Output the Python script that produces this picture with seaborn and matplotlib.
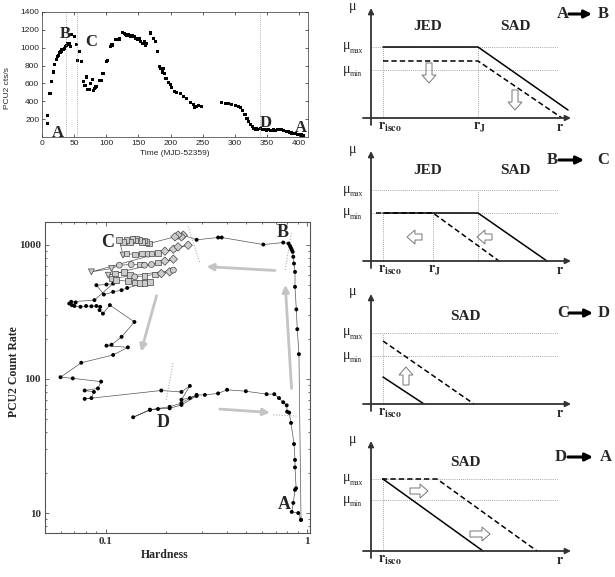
import matplotlib
matplotlib.use("Agg")
import matplotlib.pyplot as plt
from matplotlib.patches import FancyArrow
from matplotlib.ticker import NullFormatter, LogLocator
import pandas as pd
import seaborn as sns

# ---------------- light curve (top left) ----------------
lc_time = [8, 9, 12.5, 15, 17.5, 20, 22.5, 24.5, 26, 28, 29.5, 31, 33, 34.5, 36, 37.5, 40, 42.5, 44,
           46.5, 50, 54, 55.5, 59, 61, 64, 67, 69.5, 71, 73.5, 76, 79, 80.5, 81.5, 83, 84, 89, 92, 95,
           100.5, 102, 106, 109, 114, 117.5, 120, 125, 128, 130.5, 132, 134.5, 137, 138.5, 141, 143.5,
           146, 148.5, 151, 154, 156.5, 159, 161.5, 163, 168.5, 173.5, 176, 180, 183, 185, 188, 189, 190,
           193, 197, 199.5, 202, 206, 210, 215, 220, 225.5, 230.5, 236, 238, 240.5, 243.5, 248,
           280, 285, 290, 295.5, 300.5, 306, 308.5, 312.5, 316, 319, 321.5, 324, 327, 330, 333, 336,
           340, 343, 346, 350, 353, 356, 358, 360, 363, 366, 370, 373, 376, 380, 383, 386, 389, 392,
           395, 398, 401, 404, 407]
lc_rate = [150, 238, 490, 625, 728, 812, 868, 898, 917, 943, 962, 974, 981, 993, 1011, 1023, 1042, 1049, 1011,
           1150, 1125, 1040, 860, 955, 842, 623, 577, 672, 528, 528, 596, 642, 521, 540, 551, 566, 634, 634, 710,
           842, 860, 1011, 1030, 1087, 1094, 1098, 1174, 1162, 1151, 1132, 1151, 1140, 1125, 1132, 1125,
           1106, 1087, 1106, 1068, 1049, 1068, 1030, 1045, 1165, 1106, 1068, 955, 785, 770, 728, 770, 710,
           653, 615, 590, 558, 513, 500, 483, 453, 427, 389, 359, 332, 340, 351, 343,
           385, 380, 375, 365, 350, 345, 330, 294, 257, 210, 175, 145, 115, 100, 90, 85,
           92, 80, 85, 78, 82, 75, 70, 78, 72, 88, 85, 80, 75, 65, 58, 52, 45, 40,
           35, 30, 25, 22, 20]
lc_state_times = [38, 54, 339]
lc_labels = ['A', 'B', 'C', 'D', 'A']
lc_label_t = [24, 36, 76, 348, 403]
lc_label_rate = [40, 1155, 1068, 155, 105]

# ---------------- hardness-intensity diagram (bottom left) ----------------
rise_h = [0.934, 0.912, 0.895, 0.885, 0.872, 0.872, 0.862, 0.855, 0.849, 0.840, 0.832, 0.824, 0.810,
          0.762, 0.607, 0.377, 0.362, 0.283]
rise_c = [8.9, 153, 235, 330, 486, 628, 725, 814, 887, 920, 950, 980, 1022,
          1040, 1005, 1134, 1134, 1090]

soft_rows_h = [
    [0.243, 0.238, 0.229, 0.221, 0.164, 0.159, 0.155, 0.151, 0.147, 0.142, 0.1395, 0.136, 0.132, 0.127, 0.122, 0.117],
    [0.122, 0.127, 0.1395, 0.151, 0.1625, 0.169, 0.182, 0.197, 0.217, 0.229, 0.257],
    [0.085, 0.107, 0.117, 0.134, 0.148, 0.156, 0.169, 0.182, 0.197, 0.217],
    [0.103, 0.111, 0.124, 0.132, 0.1395, 0.156, 0.175, 0.189, 0.208, 0.217],
    [0.107, 0.113, 0.129, 0.1395, 0.148, 0.156, 0.166],
]
soft_rows_c = [
    [1181, 1147, 1181, 1147, 1023, 1053, 1077, 1053, 1083, 1115, 1077, 1102, 1053, 1083, 1053, 1083],
    [838, 862, 847, 862, 852, 862, 872, 897, 928, 966, 994],
    [629, 666, 705, 713, 713, 705, 713, 739, 756, 782],
    [594, 611, 629, 594, 577, 587, 601, 611, 629, 648],
    [561, 545, 536, 524, 521, 521, 530],
]
soft_rows_marker = ["DDDDssssssssssss", "vsssossDDDD", "vvoosoosDD", "vsssossDDo", "sssssss"]

desc_h = [0.128, 0.120, 0.109, 0.098, 0.090, 0.101, 0.109, 0.088, 0.0675, 0.066, 0.068, 0.071, 0.070,
          0.075, 0.080, 0.085, 0.090, 0.094, 0.0933, 0.097, 0.105, 0.139, 0.120, 0.107, 0.101, 0.129,
          0.109, 0.0757, 0.0597, 0.0687, 0.095, 0.0916, 0.0787, 0.0875, 0.085, 0.0787, 0.189, 0.238,
          0.262, 0.238, 0.283, 0.238, 0.208, 0.182, 0.166, 0.137, 0.166, 0.208, 0.238, 0.262, 0.283,
          0.311, 0.362, 0.401, 0.497, 0.630, 0.688, 0.726, 0.762, 0.793, 0.797, 0.816, 0.833, 0.862,
          0.872, 0.872, 0.883, 0.872, 0.855, 0.840, 0.905, 0.934]
desc_c = [477, 459, 446, 426, 500, 506, 514, 387, 376, 365, 355, 372, 350, 345, 350, 348, 350, 345,
          326, 307, 355, 266, 206, 180, 177, 172, 151, 132, 103, 101, 95.5, 85, 82, 80, 72, 71, 82, 80,
          88.7, 70, 74.6, 64, 60.4, 59.7, 58.7, 51.8, 59, 62, 66, 72, 76, 76, 78, 83, 81, 77, 77, 72,
          67, 63.6, 57, 56, 47, 32.7, 24.9, 21.9, 15.3, 14.9, 11.9, 10.2, 10.0, 8.9]

hid_arrows = [((0.693, 644), (0.317, 688)), ((0.179, 417), (0.150, 160)),
              ((0.369, 59.6), (0.655, 56.2)), ((0.838, 85), (0.78, 503))]
hid_separators = [((0.78, 651), (0.836, 1222)), ((0.257, 1370), (0.294, 730)),
                  ((0.216, 131), (0.2, 70)), ((0.68, 54), (0.89, 52.8))]
hid_labels = ['A', 'B', 'C', 'D']
hid_label_h = [0.77, 0.76, 0.102, 0.192]
hid_label_c = [11.5, 1229, 1035, 47]

# ---------------- schematic panels (right) ----------------
sch_origin_y = [118, 261, 404, 551]
sch_from = ['A', 'B', 'C', 'D']
sch_to = ['B', 'C', 'D', 'A']
sch_mu_max = [71, 71, 71, 72]
sch_mu_min = [48, 48, 48, 51]
sch_solid_r = [[12, 107, 197], [12, 107, 176], [12, 53], [12, 112]]
sch_solid_mu = [[71, 71, 8], [48, 48, 0], [27, 0], [72, 0]]
sch_dash_r = [[12, 107, 191], [5, 62, 128], [12, 103], [11, 66, 166]]
sch_dash_mu = [[57, 57, 0], [48, 48, 0], [63, 0], [72, 72, 0]]
sch_vlines = [[(12, 71), (107, 71)], [(12, 48), (62, 48), (107, 71)], [(12, 71)], [(12, 72)]]
sch_regions = [[('JED', 57), ('SAD', 144)], [('JED', 57), ('SAD', 144)], [('SAD', 94)], [('SAD', 94)]]
sch_region_mu = [91, 91, 87, 89]
sch_rlabels = [[('isco', 12), ('J', 107)], [('isco', 12), ('J', 62)], [('isco', 12)], [('isco', 12)]]
sch_moves = [[(58, 55, 0, -20), (144, 28, 0, -20)], [(51, 24, -15, 0), (121, 24, -15, 0)],
             [(35, 19, 0, 18)], [(39, 60, 18, 0), (99, 17, 20, 0)]]
sch_trans_r = [(192, 198, 221, 232), (181, 188, 213, 232), (192, 198, 222, 233), (190, 197, 222, 235)]
sch_trans_mu = [104, 101, 91, 94]

# ---------------- figure ----------------
sns.set_theme(style="ticks")
plt.rcParams['font.family'] = ['Liberation Serif', 'DejaVu Serif']
plt.rcParams['mathtext.fontset'] = 'stix'
plt.rcParams['axes.linewidth'] = 0.6

W, H = 615, 577
fig = plt.figure(figsize=(W / 100, H / 100), dpi=100)
fig.patch.set_facecolor('white')


def px_axes(x0, y0, x1, y1):
    return fig.add_axes([x0 / W, 1 - y1 / H, (x1 - x0) / W, (y1 - y0) / H])


# ---- top-left light curve ----
ax1 = px_axes(42, 12, 308, 137)
lc = pd.DataFrame({'t': lc_time, 'rate': lc_rate})
sns.scatterplot(data=lc, x='t', y='rate', ax=ax1, s=5, color='black', edgecolor='none', linewidth=0, marker='s')
for v in lc_state_times:
    ax1.axvline(v, color='#999999', ls=(0, (1, 1.5)), lw=0.6)
for lab, t, r in zip(lc_labels, lc_label_t, lc_label_rate):
    ax1.text(t, r, lab, fontsize=12, fontweight='bold', ha='center', va='center')
ax1.set_xlim(0, 414)
ax1.set_ylim(0, 1400)
ax1.set_xticks(range(0, 401, 50))
ax1.set_yticks(range(200, 1401, 200))
ax1.tick_params(direction='in', labelsize=6, length=2, width=0.5, top=True, right=True,
                labelfontfamily='Liberation Sans', pad=2, colors='#222222')
ax1.tick_params(axis='x', pad=2.5)
ax1.set_xlabel('Time (MJD-52359)', fontsize=6, family='Liberation Sans')
ax1.set_ylabel('PCU2 cts/s', fontsize=6, family='Liberation Sans')
ax1.xaxis.set_label_coords(0.5, -0.105)
ax1.yaxis.set_label_coords(-0.115, 0.39)
for s in ax1.spines.values():
    s.set_color('#333333')
    s.set_linewidth(0.5)

# ---- bottom-left hardness-intensity diagram ----
ax2 = px_axes(45, 222, 310, 533)
ax2.set_xscale('log')
ax2.set_yscale('log')

soft_h, soft_c, soft_m = [], [], []
for hs, cs, ms in zip(soft_rows_h, soft_rows_c, soft_rows_marker):
    soft_h += hs
    soft_c += cs
    soft_m += list(ms)

path = pd.DataFrame({'h': rise_h + soft_h + desc_h, 'c': rise_c + soft_c + desc_c})
sns.lineplot(data=path, x='h', y='c', sort=False, estimator=None, color='#555555', lw=0.5, ax=ax2)

hard = pd.DataFrame({'h': rise_h + desc_h, 'c': rise_c + desc_c})
sns.scatterplot(data=hard, x='h', y='c', color='black', s=8, edgecolor='none', linewidth=0, ax=ax2, zorder=4)

soft = pd.DataFrame({'h': soft_h, 'c': soft_c, 'm': soft_m})
sns.scatterplot(data=soft, x='h', y='c', style='m', markers={'s': 's', 'D': 'D', 'v': 'v', 'o': 'o'},
                color='#cccccc', edgecolor='#444444', linewidth=0.5, s=18, legend=False, ax=ax2, zorder=4)

for (t0, t1) in hid_arrows:
    ax2.annotate('', xy=t1, xytext=t0,
                 arrowprops=dict(arrowstyle='-|>', color='#c4c4c4', lw=2.0, mutation_scale=10,
                                 shrinkA=0, shrinkB=0))
for (p0, p1) in hid_separators:
    ax2.plot([p0[0], p1[0]], [p0[1], p1[1]], ls=(0, (1, 1.5)), color='#aaaaaa', lw=0.8)
for lab, h, c in zip(hid_labels, hid_label_h, hid_label_c):
    ax2.text(h, c, lab, fontsize=13, fontweight='bold', ha='center', va='center', zorder=5)

ax2.set_xlim(0.05, 1.035)
ax2.set_ylim(7.1, 1480)
ax2.set_xticks([0.1, 1])
ax2.set_xticklabels(['0.1', '1'], fontweight='bold', fontsize=8)
ax2.set_yticks([10, 100, 1000])
ax2.set_yticklabels(['10', '100', '1000'], fontweight='bold', fontsize=8)
ax2.xaxis.set_minor_locator(LogLocator(base=10, subs=range(2, 10)))
ax2.yaxis.set_minor_locator(LogLocator(base=10, subs=range(2, 10)))
ax2.xaxis.set_minor_formatter(NullFormatter())
ax2.yaxis.set_minor_formatter(NullFormatter())
ax2.tick_params(which='both', direction='in', top=True, right=True, width=0.5, colors='#333333', pad=3)
ax2.tick_params(which='major', length=3)
ax2.tick_params(which='minor', length=1.5)
ax2.set_xlabel('Hardness', fontsize=8.5, fontweight='bold')
ax2.set_ylabel('PCU2 Count Rate', fontsize=8.5, fontweight='bold')
ax2.xaxis.set_label_coords(0.45, -0.05)
ax2.yaxis.set_label_coords(-0.095, 0.52)
for s in ax2.spines.values():
    s.set_color('#555555')
    s.set_linewidth(0.8)

# ---- right-hand schematic panels ----
for i, oy in enumerate(sch_origin_y):
    ax = px_axes(335, oy - 125, 615, oy + 25)
    ax.set_xlim(-36, 244)
    ax.set_ylim(-25, 125)
    ax.axis('off')
    ax.patch.set_alpha(0)
    # axes arrows
    ax.annotate('', xy=(0, 110), xytext=(0, -7),
                arrowprops=dict(arrowstyle='-|>', lw=1.3, color='#333333', mutation_scale=8,
                                shrinkA=0, shrinkB=0))
    ax.annotate('', xy=(200, 0), xytext=(-8, 0),
                arrowprops=dict(arrowstyle='-|>', lw=1.3, color='#333333', mutation_scale=8,
                                shrinkA=0, shrinkB=0))
    # reference levels
    for lvl, name in ((sch_mu_max[i], 'max'), (sch_mu_min[i], 'min')):
        ax.plot([0, 187], [lvl, lvl], ls=(0, (1, 1.5)), color='#888888', lw=0.6)
        ax.text(-21, lvl + 1, 'μ', fontsize=10, ha='right', va='center')
        ax.text(-21, lvl - 4, name, fontsize=5.5, ha='left', va='center')
    for (rv, top) in sch_vlines[i]:
        ax.plot([rv, rv], [0, top], ls=(0, (1, 1.5)), color='#888888', lw=0.6)
    # profiles
    ax.plot(sch_dash_r[i], sch_dash_mu[i], color='black', lw=1.1, ls=(0, (3.5, 2)))
    ax.plot(sch_solid_r[i], sch_solid_mu[i], color='black', lw=1.1)
    # hollow arrows
    for (x, y, dx, dy) in sch_moves[i]:
        ax.add_patch(FancyArrow(x, y, dx, dy, width=6, head_width=14, head_length=8,
                                length_includes_head=True, facecolor='white', edgecolor='#777777',
                                linewidth=0.7))
    # texts
    ax.text(-18, 112, 'μ', fontsize=10, ha='center', va='center')
    for (name, rpos) in sch_regions[i]:
        ax.text(rpos, sch_region_mu[i], name, fontsize=11, fontweight='bold', ha='center', va='center')
    for (sub, rpos) in sch_rlabels[i]:
        ax.text(rpos - 5, -3, r'$\mathbf{r_{%s}}$' % sub, fontsize=10, ha='left', va='top')
    ax.text(189, -3, r'$\mathbf{r}$', fontsize=10, ha='center', va='top')
    ra, r0, r1, rb = sch_trans_r[i]
    mu = sch_trans_mu[i]
    ax.text(ra, mu, sch_from[i], fontsize=12, fontweight='bold', ha='center', va='center')
    ax.text(rb, mu, sch_to[i], fontsize=12, fontweight='bold', ha='center', va='center')
    ax.annotate('', xy=(r1, mu), xytext=(r0, mu),
                arrowprops=dict(arrowstyle='-|>', lw=2.2, color='black', mutation_scale=11,
                                shrinkA=0, shrinkB=0))

fig.savefig('out.png', dpi=100, facecolor='white')
